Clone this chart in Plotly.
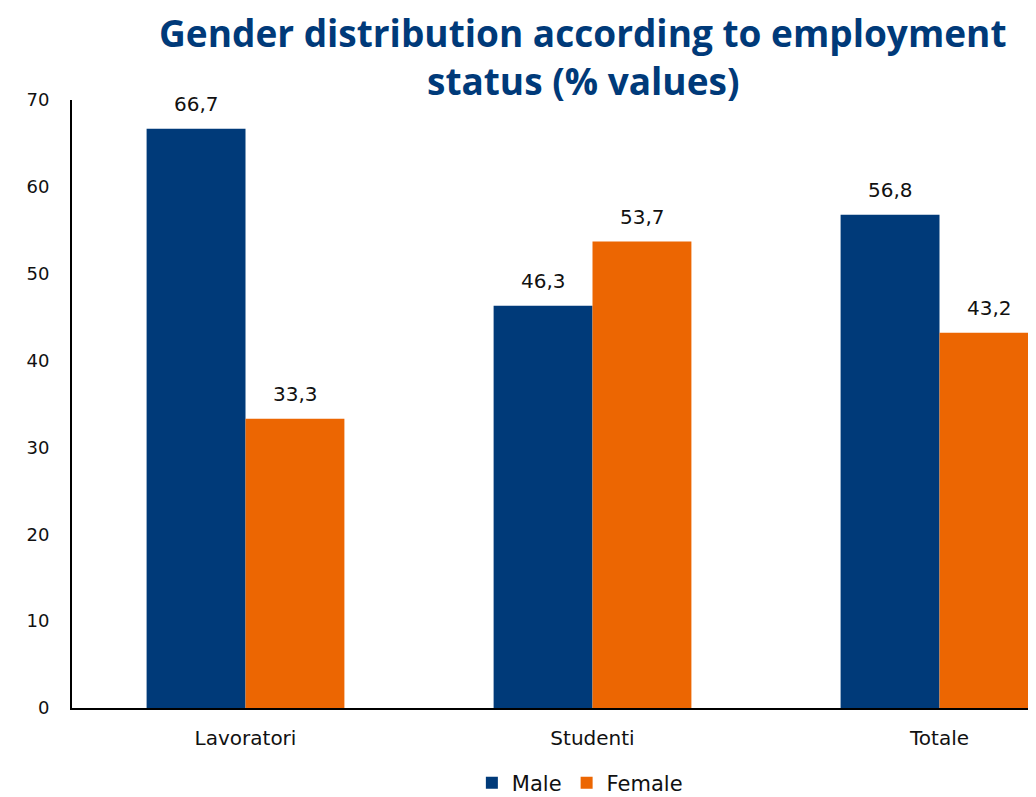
import plotly.graph_objects as go

categories = ["Lavoratori", "Studenti", "Totale"]
male = [66.7, 46.3, 56.8]
female = [33.3, 53.7, 43.2]
series_names = ["Male", "Female"]
y_ticks = [0, 10, 20, 30, 40, 50, 60, 70]
title_lines = ["Gender distribution according to employment", "status (% values)"]

BLUE = "#003A79"
ORANGE = "#EC6602"
LABEL_FONT = "'DejaVu Sans', sans-serif"
TITLE_FONT = "'Open Sans', sans-serif"

fig = go.Figure()
fig.add_trace(go.Bar(x=categories, y=male, name=series_names[0], marker_color=BLUE,
                     marker_line_width=0, cliponaxis=True))
fig.add_trace(go.Bar(x=categories, y=female, name=series_names[1], marker_color=ORANGE,
                     marker_line_width=0, cliponaxis=True))

# data labels
for vals, shift in ((male, -49.5), (female, 49.5)):
    for c, v in zip(categories, vals):
        fig.add_annotation(x=c, y=v, xref="x", yref="y", text=f"{v:.1f}".replace(".", ","),
                           showarrow=False, xshift=shift, yshift=25,
                           font=dict(family=LABEL_FONT, size=20, color="#111111"))

# two-line title
for line, ypos in zip(title_lines, (1.1118, 1.0313)):
    fig.add_annotation(x=0.530, y=ypos, xref="paper", yref="paper", xanchor="center", yanchor="middle",
                       text=line, showarrow=False, borderpad=0,
                       font=dict(family=TITLE_FONT, size=37, color=BLUE, weight="bold"))

fig.update_layout(
    width=1036, height=797,
    margin=dict(l=64, r=8, t=92, b=97),
    paper_bgcolor="white", plot_bgcolor="white",
    barmode="group", bargap=0.43, bargroupgap=0,
    separators=",.",
    xaxis=dict(range=[-0.5, -0.5 + 964 / 347], showline=True, linecolor="black", linewidth=2,
               ticks="", showgrid=False, ticklabelstandoff=11,
               tickfont=dict(family=LABEL_FONT, size=20, color="#111111")),
    yaxis=dict(range=[0, 70], tickvals=y_ticks, showline=True, linecolor="black", linewidth=2,
               ticks="", showgrid=False, zeroline=False, ticklabelstandoff=17,
               tickfont=dict(family=LABEL_FONT, size=18, color="#111111")),
    legend=dict(orientation="h", x=0.552, xref="container", xanchor="center",
                y=22 / 797, yref="container", yanchor="middle",
                font=dict(family=LABEL_FONT, size=21, color="#111111"),
                itemwidth=30, traceorder="normal"),
)

fig.write_html("out.html")
